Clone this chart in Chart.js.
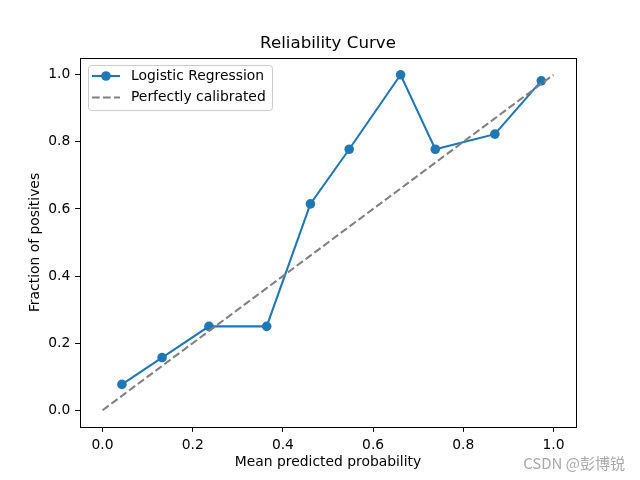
<!DOCTYPE html>
<html>
<head>
<meta charset="utf-8">
<script src="https://cdn.jsdelivr.net/npm/chart.js@4.4.0/dist/chart.umd.min.js"></script>
<style>
  body { margin: 0; background: #fff; }
  canvas { display: block; }
</style>
</head>
<body>
<canvas id="relChart" width="640" height="480"></canvas>
<script>
// data
var meanPredicted = [0.043, 0.132, 0.236, 0.364, 0.461, 0.547, 0.661, 0.738, 0.870, 0.973];
var fractionPositives = [0.077, 0.157, 0.25, 0.25, 0.615, 0.778, 1.0, 0.778, 0.823, 0.982];
var perfectX = [0, 1];
var perfectY = [0, 1];
var tickValues = [0, 0.2, 0.4, 0.6, 0.8, 1.0];
var seriesLabels = ["Logistic Regression", "Perfectly calibrated"];
var chartTitle = "Reliability Curve";

var FONT = "'DejaVu Sans', sans-serif";
var BLUE = "#1f77b4";
var GRAY = "#808080";
var FS = 13.89; // 10pt @ 100dpi

function toPoints(xs, ys) {
  return xs.map(function (x, i) { return { x: x, y: ys[i] }; });
}

// frame, title, legend, watermark
var extras = {
  id: "extras",
  afterDraw: function (chart) {
    var c = chart.ctx;
    var a = chart.chartArea;
    c.save();
    c.strokeStyle = "#000";
    c.lineWidth = 1;
    c.strokeRect(Math.round(a.left) + 0.5, Math.round(a.top) + 0.5,
      Math.round(a.right - a.left), Math.round(a.bottom - a.top));

    // title over the plot area
    c.fillStyle = "#000";
    c.font = "16.67px " + FONT;
    c.textAlign = "center";
    c.textBaseline = "alphabetic";
    c.fillText(chartTitle, (a.left + a.right) / 2, 48);

    // legend box
    var bx = 88.5, by = 65.5, bw = 184, bh = 45, r = 3;
    c.beginPath();
    c.moveTo(bx + r, by);
    c.arcTo(bx + bw, by, bx + bw, by + bh, r);
    c.arcTo(bx + bw, by + bh, bx, by + bh, r);
    c.arcTo(bx, by + bh, bx, by, r);
    c.arcTo(bx, by, bx + bw, by, r);
    c.closePath();
    c.fillStyle = "rgba(255,255,255,0.8)";
    c.fill();
    c.strokeStyle = "#cccccc";
    c.stroke();

    var rows = [76, 97.5];
    c.strokeStyle = BLUE;
    c.lineWidth = 2.08;
    c.setLineDash([]);
    c.beginPath(); c.moveTo(92, rows[0]); c.lineTo(120, rows[0]); c.stroke();
    c.fillStyle = BLUE;
    c.beginPath(); c.arc(106, rows[0], 4.8, 0, Math.PI * 2); c.fill();
    c.strokeStyle = GRAY;
    c.setLineDash([7.7, 3.3]);
    c.beginPath(); c.moveTo(92, rows[1]); c.lineTo(120, rows[1]); c.stroke();
    c.setLineDash([]);

    c.fillStyle = "#000";
    c.font = FS + "px " + FONT;
    c.textBaseline = "middle";
    c.textAlign = "left";
    c.fillText(seriesLabels[0], 131, rows[0]);
    c.fillText(seriesLabels[1], 131, rows[1]);

    // watermark
    c.fillStyle = "#a8a8a8";
    c.font = "15px 'Noto Sans CJK SC', " + FONT;
    c.textAlign = "right";
    c.fillText("CSDN @彭博锐", 625, 463);
    c.restore();
  }
};

function axisOpts(titleText, titlePad, isX) {
  return {
    type: "linear",
    min: -0.05,
    max: 1.05,
    afterBuildTicks: function (s) {
      s.ticks = tickValues.map(function (v) { return { value: v }; });
    },
    afterFit: function (s) {
      if (isX) s.height = 53; else s.width = 80;
    },
    ticks: {
      color: "#000",
      font: { family: FONT, size: FS },
      padding: 4.86,
      maxRotation: 0,
      callback: function (v) { return v.toFixed(1); },
    },
    grid: { drawOnChartArea: false, drawTicks: true, tickLength: 4.86, tickColor: "#000", color: "#000" },
    border: { display: false },
    title: {
      display: true,
      text: titleText,
      color: "#000",
      font: { family: FONT, size: FS },
      padding: titlePad,
    },
  };
}

var ctx = document.getElementById("relChart").getContext("2d");
var chart = new Chart(ctx, {
  type: "scatter",
  data: {
    datasets: [
      {
        label: seriesLabels[0],
        data: toPoints(meanPredicted, fractionPositives),
        showLine: true,
        borderColor: BLUE,
        backgroundColor: BLUE,
        borderWidth: 2.08,
        pointRadius: 4.8,
        pointBorderWidth: 0,
        pointHoverRadius: 4.8,
        order: 1,
      },
      {
        label: seriesLabels[1],
        data: toPoints(perfectX, perfectY),
        showLine: true,
        borderColor: GRAY,
        borderWidth: 2.08,
        borderDash: [7.7, 3.3],
        pointRadius: 0,
        order: 0,
      },
    ],
  },
  options: {
    responsive: false,
    animation: false,
    devicePixelRatio: 1,
    layout: { padding: { left: 0, right: 64, top: 58, bottom: 0 } },
    plugins: {
      legend: { display: false },
      tooltip: { enabled: false },
      title: { display: false },
    },
    scales: {
      x: axisOpts("Mean predicted probability", { top: 0, bottom: 9.7 }, true),
      y: axisOpts("Fraction of positives", { top: 26.7, bottom: 0 }, false),
    },
  },
  plugins: [extras],
});
</script>
</body>
</html>
